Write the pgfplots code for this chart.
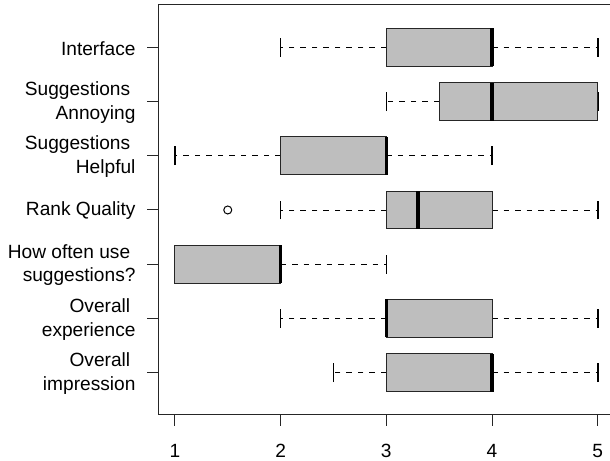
\documentclass[border=0pt]{standalone}
\usepackage{pgfplots}
\pgfplotsset{compat=1.18}
\usepgfplotslibrary{statistics}
\usepackage{fontspec}
\setmainfont{Liberation Sans}
\definecolor{boxgray}{RGB}{190,190,190}
\begin{document}
\begin{tikzpicture}[x=1bp,y=1bp]
\useasboundingbox (0,0) rectangle (610,461);
\clip (0,0) rectangle (610,461);
\begin{axis}[
  at={(158bp,46bp)}, anchor=south west,
  scale only axis, width=456.6bp, height=410bp,
  xmin=0.84, xmax=5.16, ymin=0.22, ymax=7.78,
  axis line style={line width=1bp, black!85},
  xtick={1,2,3,4,5}, ytick={1,2,3,4,5,6,7},
  xtick pos=bottom, ytick pos=left,
  tick align=outside, major tick length=11bp,
  tick style={line width=1bp, black!85},
  /pgf/number format/assume math mode=true,
  tick label style={font=\fontsize{19.2}{23.5}\selectfont},
  yticklabel style={align=right, xshift=-8bp, yshift=-1bp},
  xticklabel style={inner sep=0pt, anchor=north, yshift=-18bp},
  yticklabels={{Overall\hspace*{5.3bp}\\impression},
               {Overall\hspace*{5.3bp}\\experience},
               {How often use\hspace*{5.3bp}\\suggestions?},
               {Rank Quality},
               {Suggestions\hspace*{5.3bp}\\Helpful},
               {Suggestions\hspace*{5.3bp}\\Annoying},
               {Interface}},
  boxplot/draw direction=x,
  boxplot/box extend=0.7,
  boxplot/whisker extend=0.35,
  boxplot/every median/.style={line width=3.5bp, black},
  boxplot/every box/.style={fill=boxgray, draw=black!85, line width=1bp},
  boxplot/draw/lower whisker/.code={%
    \draw[dash pattern=on 5.5bp off 6bp, line width=0.9bp, black]
      (boxplot cs:\pgfplotsboxplotvalue{lower quartile}) --
      (boxplot cs:\pgfplotsboxplotvalue{lower whisker});
    \draw[line width=1.6bp, black]
      (boxplot whisker cs:\pgfplotsboxplotvalue{lower whisker},0) --
      (boxplot whisker cs:\pgfplotsboxplotvalue{lower whisker},1);
  },
  boxplot/draw/upper whisker/.code={%
    \draw[dash pattern=on 5.5bp off 6bp, line width=0.9bp, black]
      (boxplot cs:\pgfplotsboxplotvalue{upper quartile}) --
      (boxplot cs:\pgfplotsboxplotvalue{upper whisker});
    \draw[line width=1.6bp, black]
      (boxplot whisker cs:\pgfplotsboxplotvalue{upper whisker},0) --
      (boxplot whisker cs:\pgfplotsboxplotvalue{upper whisker},1);
  },
]
% Overall impression
\addplot[black, boxplot prepared={draw position=1, lower whisker=2.5,
  lower quartile=3, median=4, upper quartile=4, upper whisker=5}] coordinates {};
% Overall experience
\addplot[black, boxplot prepared={draw position=2, lower whisker=2,
  lower quartile=3, median=3, upper quartile=4, upper whisker=5}] coordinates {};
% How often use suggestions?
\addplot[black, boxplot prepared={draw position=3, lower whisker=1,
  lower quartile=1, median=2, upper quartile=2, upper whisker=3}] coordinates {};
% Rank Quality
\addplot[black, mark=o, mark size=4bp, mark options={solid, line width=1bp},
  boxplot prepared={draw position=4, lower whisker=2,
  lower quartile=3, median=3.3, upper quartile=4, upper whisker=5}] coordinates {(0,1.5)};
% Suggestions Helpful
\addplot[black, boxplot prepared={draw position=5, lower whisker=1,
  lower quartile=2, median=3, upper quartile=3, upper whisker=4}] coordinates {};
% Suggestions Annoying
\addplot[black, boxplot prepared={draw position=6, lower whisker=3,
  lower quartile=3.5, median=4, upper quartile=5, upper whisker=5}] coordinates {};
% Interface
\addplot[black, boxplot prepared={draw position=7, lower whisker=2,
  lower quartile=3, median=4, upper quartile=4, upper whisker=5}] coordinates {};
\end{axis}
\end{tikzpicture}
\end{document}
